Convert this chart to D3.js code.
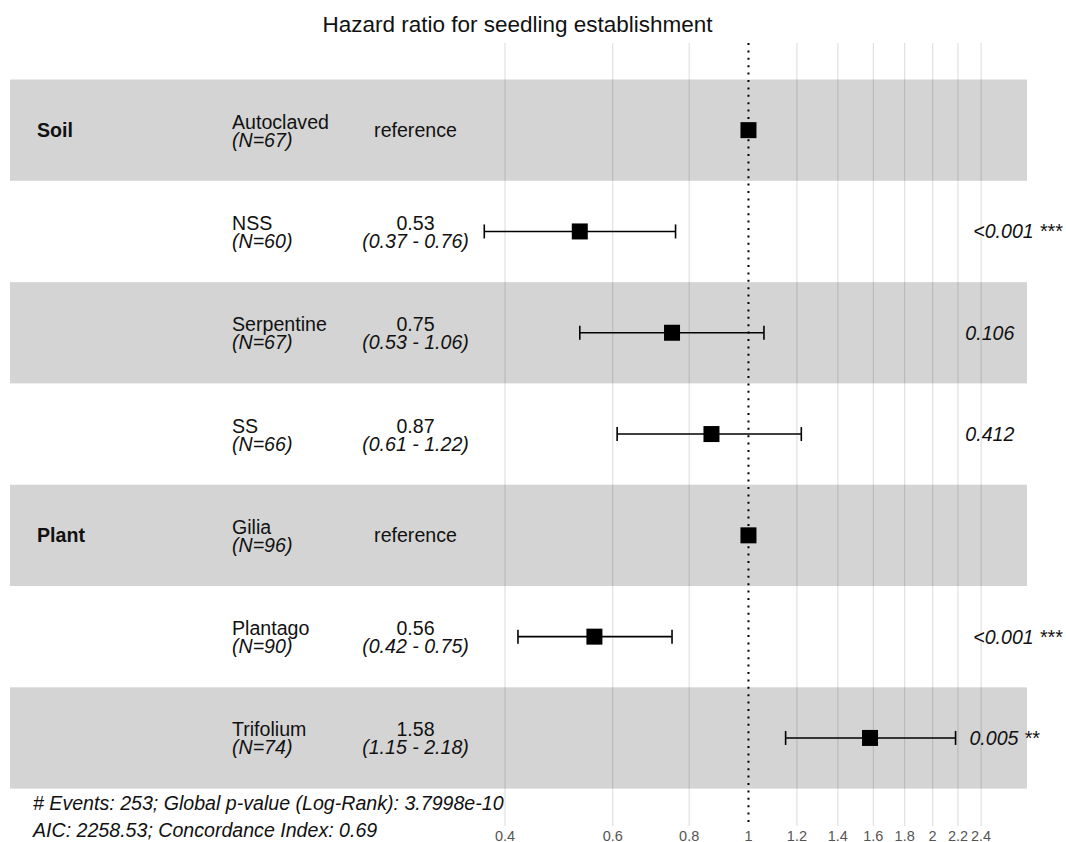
<!DOCTYPE html>
<html><head><meta charset="utf-8">
<script src="https://cdn.jsdelivr.net/npm/d3@7"></script>
<style>
body{margin:0;background:#fff;}
svg{display:block;font-family:"Liberation Sans",Arial,Helvetica,sans-serif;}
</style></head>
<body><svg id="c" width="1066" height="842"></svg>
<script>
const title = "Hazard ratio for seedling establishment";
const variables = ["Soil", "", "", "", "Plant", "", ""];
const levels = ["Autoclaved", "NSS", "Serpentine", "SS", "Gilia", "Plantago", "Trifolium"];
const ns = [67, 60, 67, 66, 96, 90, 74];
const hr = [1, 0.53, 0.75, 0.87, 1, 0.56, 1.58];
const lower = [null, 0.37, 0.53, 0.61, null, 0.42, 1.15];
const upper = [null, 0.76, 1.06, 1.22, null, 0.75, 2.18];
const pvals = ["", "<0.001 ***", "0.106", "0.412", "", "<0.001 ***", "0.005 **"];
const ticks = [0.4, 0.6, 0.8, 1, 1.2, 1.4, 1.6, 1.8, 2, 2.2, 2.4];
const footer = ["# Events: 253; Global p-value (Log-Rank): 3.7998e-10",
                "AIC: 2258.53; Concordance Index: 0.69"];

const svg = d3.select("#c");
const FS = 19.6;
const x = d3.scaleLog().domain([0.4, 2.4]).range([505.0, 981.1]);
const y = d3.scaleBand().domain(d3.range(levels.length)).range([79.5, 788.6]);
const cy = i => y(i) + y.bandwidth() / 2;
const fmt = v => v.toFixed(2);

// gridlines
svg.append("g").selectAll("line").data(ticks.filter(t => t !== 1)).join("line")
  .attr("x1", d => x(d)).attr("x2", d => x(d)).attr("y1", 43).attr("y2", 826)
  .attr("stroke", "#dedede").attr("stroke-width", 1.1);

// bands
svg.append("g").selectAll("rect").data(d3.range(levels.length).filter(i => i % 2 === 0)).join("rect")
  .attr("x", 10).attr("width", 1017).attr("y", i => y(i)).attr("height", y.bandwidth())
  .attr("fill", "rgba(0,0,0,0.17)");

// reference line
svg.append("line").attr("x1", x(1)).attr("x2", x(1)).attr("y1", 43).attr("y2", 826)
  .attr("stroke", "#000").attr("stroke-width", 2).attr("stroke-dasharray", "2,5.4");

// tick labels
svg.append("g").selectAll("text").data(ticks).join("text")
  .attr("x", d => x(d)).attr("y", 841).attr("text-anchor", "middle")
  .attr("font-size", 14.5).attr("fill", "#555").text(d => d);

// title
svg.append("text").attr("x", 517.5).attr("y", 32).attr("text-anchor", "middle")
  .attr("font-size", 22.5).attr("fill", "#111").text(title);

const rows = svg.append("g").selectAll("g").data(d3.range(levels.length)).join("g");

rows.append("text").attr("x", 37).attr("y", i => cy(i) + 7).attr("font-size", FS)
  .attr("font-weight", "bold").attr("fill", "#111").text(i => variables[i]);
rows.append("text").attr("x", 232).attr("y", i => cy(i) - 1.5).attr("font-size", FS)
  .attr("fill", "#111").text(i => levels[i]);
rows.append("text").attr("x", 232).attr("y", i => cy(i) + 16.5).attr("font-size", FS)
  .attr("font-style", "italic").attr("fill", "#111").text(i => "(N=" + ns[i] + ")");

rows.each(function(i) {
  const g = d3.select(this);
  if (lower[i] === null) {
    g.append("text").attr("x", 415.5).attr("y", cy(i) + 7).attr("text-anchor", "middle")
      .attr("font-size", FS).attr("fill", "#111").text("reference");
  } else {
    g.append("text").attr("x", 415.5).attr("y", cy(i) - 1.5).attr("text-anchor", "middle")
      .attr("font-size", FS).attr("fill", "#111").text(fmt(hr[i]));
    g.append("text").attr("x", 415.5).attr("y", cy(i) + 16.5).attr("text-anchor", "middle")
      .attr("font-size", FS).attr("font-style", "italic").attr("fill", "#111")
      .text("(" + fmt(lower[i]) + " - " + fmt(upper[i]) + ")");
    g.append("line").attr("x1", x(lower[i])).attr("x2", x(upper[i])).attr("y1", cy(i)).attr("y2", cy(i))
      .attr("stroke", "#000").attr("stroke-width", 1.6);
    [lower[i], upper[i]].forEach(v => g.append("line").attr("x1", x(v)).attr("x2", x(v))
      .attr("y1", cy(i) - 7).attr("y2", cy(i) + 7).attr("stroke", "#000").attr("stroke-width", 1.6));
  }
  g.append("rect").attr("x", x(hr[i]) - 8).attr("y", cy(i) - 8).attr("width", 16).attr("height", 16)
    .attr("fill", "#000");
  if (pvals[i]) {
    const t = g.append("text").attr("y", cy(i) + 7).attr("font-size", FS)
      .attr("font-style", "italic").attr("fill", "#111").text(pvals[i]);
    const w = t.node().getComputedTextLength();
    t.attr("x", 955.5 + 0.2 * w);
  }
});

svg.append("g").selectAll("text").data(footer).join("text")
  .attr("x", 33).attr("y", (d, k) => 810 + k * 26.5).attr("font-size", FS)
  .attr("font-style", "italic").attr("fill", "#111").text(d => d);
</script></body></html>
